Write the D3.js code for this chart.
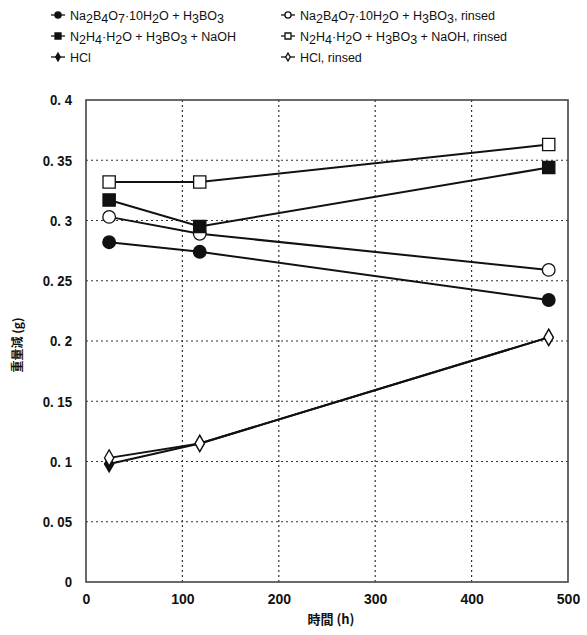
<!DOCTYPE html>
<html><head><meta charset="utf-8">
<script src="https://cdn.jsdelivr.net/npm/d3@7"></script>
<style>body{margin:0;background:#fff}svg{display:block}</style>
</head><body>
<script>
const hours = [24, 118, 480];
const seriesNames = ["Na2B4O7", "Na2B4O7 rinsed", "N2H4", "N2H4 rinsed", "HCl", "HCl rinsed"];
const naBorax = [0.282, 0.274, 0.234];
const naBoraxRinsed = [0.303, 0.289, 0.259];
const hydrazine = [0.317, 0.295, 0.344];
const hydrazineRinsed = [0.332, 0.332, 0.363];
const hcl = [0.098, 0.115, 0.203];
const hclRinsed = [0.103, 0.115, 0.203];
const xTicks = [0, 100, 200, 300, 400, 500];
const yTicks = [0, 0.05, 0.1, 0.15, 0.2, 0.25, 0.3, 0.35, 0.4];
const yTickLabels = ["0", "0. 05", "0. 1", "0. 15", "0. 2", "0. 25", "0. 3", "0. 35", "0. 4"];

const W = 587, H = 635;
const svg = d3.select("body").append("svg").attr("width", W).attr("height", H);
const x = d3.scaleLinear().domain([0, 500]).range([86, 568]);
const y = d3.scaleLinear().domain([0, 0.4]).range([582, 100]);
const ink = "#111";

// grid
svg.append("g").selectAll("line").data(yTicks.slice(1, -1)).join("line")
  .attr("x1", x(0)).attr("x2", x(500)).attr("y1", d => y(d)).attr("y2", d => y(d))
  .attr("stroke", "#333").attr("stroke-width", 1.2).attr("stroke-dasharray", "2,3");
svg.append("g").selectAll("line").data(xTicks.slice(1, -1)).join("line")
  .attr("y1", y(0)).attr("y2", y(0.4)).attr("x1", d => x(d)).attr("x2", d => x(d))
  .attr("stroke", "#333").attr("stroke-width", 1.2).attr("stroke-dasharray", "2,3");
// frame
svg.append("rect").attr("x", x(0)).attr("y", y(0.4)).attr("width", x(500) - x(0)).attr("height", y(0) - y(0.4))
  .attr("fill", "none").attr("stroke", "#444").attr("stroke-width", 1.6);

// axes
const yAxis = d3.axisLeft(y).tickValues(yTicks).tickFormat((d, i) => yTickLabels[i]).tickSize(0).tickPadding(14);
const gy = svg.append("g").attr("transform", `translate(${x(0)},0)`).call(yAxis);
gy.select(".domain").remove();
gy.selectAll("text").attr("font-family", "Liberation Sans, Arial, sans-serif").attr("font-size", 15)
  .attr("fill", ink).attr("font-weight", "bold").attr("transform", "scale(0.88,1)")
  .attr("x", -14 / 0.88);
const xAxis = d3.axisBottom(x).tickValues(xTicks).tickFormat(d3.format("d")).tickSize(0).tickPadding(12);
const gx = svg.append("g").attr("transform", `translate(0,${y(0)})`).call(xAxis);
gx.select(".domain").remove();
gx.selectAll("text").attr("font-family", "Liberation Sans, Arial, sans-serif").attr("font-size", 14)
  .attr("fill", ink).attr("font-weight", "bold");

// axis titles
svg.append("text").attr("x", x(250) + 4).attr("y", 624).attr("text-anchor", "middle")
  .attr("font-family", "Noto Sans CJK JP, sans-serif").attr("font-size", 13).attr("font-weight", "bold")
  .attr("fill", ink).text("時間 (h)");
svg.append("text").attr("transform", "translate(22,345) rotate(-90)").attr("text-anchor", "middle")
  .attr("font-family", "Noto Sans CJK JP, sans-serif").attr("font-size", 12).attr("font-weight", "bold")
  .attr("fill", ink).text("重量減 (g)");

// series
const series = [
  {vals: naBorax, shape: "circle", fill: ink},
  {vals: naBoraxRinsed, shape: "circle", fill: "#fff"},
  {vals: hydrazine, shape: "square", fill: ink},
  {vals: hydrazineRinsed, shape: "square", fill: "#fff"},
  {vals: hcl, shape: "diamond", fill: ink},
  {vals: hclRinsed, shape: "diamond", fill: "#fff"}
];
const line = d3.line().x(d => x(d[0])).y(d => y(d[1]));
function marker(g, shape, fill, sz) {
  let sym;
  if (shape === "circle") sym = d3.symbol(d3.symbolCircle, sz * 1.0);
  else if (shape === "square") sym = d3.symbol(d3.symbolSquare, sz * 1.2);
  else sym = d3.symbol(d3.symbolDiamond, sz * 0.6);
  g.append("path").attr("d", sym()).attr("fill", fill).attr("stroke", ink).attr("stroke-width", 1.3);
}
series.forEach(s => {
  const pts = hours.map((h, i) => [h, s.vals[i]]);
  svg.append("path").datum(pts).attr("d", line).attr("fill", "none").attr("stroke", ink).attr("stroke-width", 2);
});
series.forEach(s => {
  hours.forEach((h, i) => {
    const g = svg.append("g").attr("transform", `translate(${x(h)},${y(s.vals[i])})`);
    marker(g, s.shape, s.fill, 125);
  });
});

// legend
const legendItems = [
  {col: 0, row: 0, s: 0, parts: [["Na"], ["2", "sub"], ["B"], ["4", "sub"], ["O"], ["7", "sub"], ["·10H"], ["2", "sub"], ["O + H"], ["3", "sub"], ["BO"], ["3", "sub"]]},
  {col: 1, row: 0, s: 1, parts: [["Na"], ["2", "sub"], ["B"], ["4", "sub"], ["O"], ["7", "sub"], ["·10H"], ["2", "sub"], ["O + H"], ["3", "sub"], ["BO"], ["3", "sub"], [", rinsed"]]},
  {col: 0, row: 1, s: 2, parts: [["N"], ["2", "sub"], ["H"], ["4", "sub"], ["·H"], ["2", "sub"], ["O + H"], ["3", "sub"], ["BO"], ["3", "sub"], [" + NaOH"]]},
  {col: 1, row: 1, s: 3, parts: [["N"], ["2", "sub"], ["H"], ["4", "sub"], ["·H"], ["2", "sub"], ["O + H"], ["3", "sub"], ["BO"], ["3", "sub"], [" + NaOH, rinsed"]]},
  {col: 0, row: 2, s: 4, parts: [["HCl"]]},
  {col: 1, row: 2, s: 5, parts: [["HCl, rinsed"]]}
];
const colX = [58, 288], rowY = [15, 36, 57];
legendItems.forEach(it => {
  const g = svg.append("g").attr("transform", `translate(${colX[it.col]},${rowY[it.row]})`);
  g.append("line").attr("x1", -7).attr("x2", 7).attr("stroke", ink).attr("stroke-width", 1.3);
  const s = series[it.s];
  marker(g, s.shape, s.fill, 30);
  const t = g.append("text").attr("x", 12).attr("y", 4.5).attr("font-family", "Liberation Sans, Arial, sans-serif")
    .attr("font-size", 12.5).attr("fill", ink);
  let sub = false;
  it.parts.forEach(p => {
    const isSub = p[1] === "sub";
    const ts = t.append("tspan").text(p[0]);
    if (isSub && !sub) ts.attr("dy", 3);
    if (!isSub && sub) ts.attr("dy", -3);
    sub = isSub;
  });
});
</script>
</body></html>
